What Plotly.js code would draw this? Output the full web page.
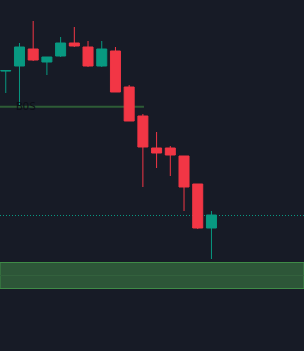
<!DOCTYPE html>
<html>
<head>
<meta charset="utf-8">
<script src="https://cdn.plot.ly/plotly-3.0.1.min.js"></script>
<style>
  html, body { margin: 0; padding: 0; background: #171b26; }
  #chart { width: 304px; height: 351px; }
</style>
</head>
<body>
<div id="chart"></div>
<script>
// Candle index (time order)
const bars = [0, 1, 2, 3, 4, 5, 6, 7, 8, 9, 10, 11, 12, 13, 14, 15];
// Prices (arbitrary price units)
const opens  = [280.0, 285, 302, 289, 295, 308, 304, 285, 300, 264, 235, 203, 203, 195, 167, 123];
const highs  = [280.5, 308, 330, 294, 314, 324, 310, 310, 304, 266, 237, 219, 205, 195, 167, 140];
const lows   = [258.0, 246, 290, 276, 294, 304, 284, 284, 259, 230, 164, 183, 175, 140, 122,  92];
const closes = [280.4, 304, 291, 294, 308, 305, 285, 302, 259, 230, 204, 198, 196, 164, 123, 136];

// Levels
const bosLevel = 244.2;      // break of structure line
const bosEndBar = 10.08;
const bosLabel = "BOS";
const dottedLevel = 135.5;   // dotted level line
const zoneTop = 88.5;        // demand zone
const zoneMid = 75.5;
const zoneBottom = 62.5;

const trace = {
  type: 'candlestick',
  x: bars,
  open: opens,
  high: highs,
  low: lows,
  close: closes,
  increasing: { line: { color: '#089981', width: 1 }, fillcolor: '#089981' },
  decreasing: { line: { color: '#f23645', width: 1 }, fillcolor: '#f23645' },
  whiskerwidth: 0,
  hoverinfo: 'skip',
  showlegend: false
};

const layout = {
  width: 304,
  height: 351,
  margin: { l: 0, r: 0, t: 0, b: 0 },
  paper_bgcolor: '#171b26',
  plot_bgcolor: '#171b26',
  boxgap: 0.27,
  boxgroupgap: 0,
  showlegend: false,
  xaxis: {
    range: [-0.42, 21.75],
    showgrid: false, zeroline: false, showticklabels: false, showline: false,
    ticks: '',
    rangeslider: { visible: false },
    fixedrange: true
  },
  yaxis: {
    range: [0, 351],
    showgrid: false, zeroline: false, showticklabels: false, showline: false,
    ticks: '',
    fixedrange: true
  },
  shapes: [
    { type: 'rect', xref: 'paper', yref: 'y', x0: 0, x1: 1, y0: zoneBottom, y1: zoneTop,
      fillcolor: '#2d5638', line: { color: '#3f8a47', width: 1 }, layer: 'below' },
    { type: 'line', xref: 'paper', yref: 'y', x0: 0, x1: 1, y0: zoneMid, y1: zoneMid,
      line: { color: '#33613d', width: 1 }, layer: 'below' },
    { type: 'line', xref: 'paper', yref: 'y', x0: 0, x1: 1, y0: dottedLevel, y1: dottedLevel,
      line: { color: '#089981', width: 1, dash: '1px,2px' }, layer: 'below' },
    { type: 'line', xref: 'x', yref: 'y', x0: -0.42, x1: bosEndBar, y0: bosLevel, y1: bosLevel,
      line: { color: '#2e5c36', width: 2 }, layer: 'below' }
  ],
  annotations: [
    { x: 1.47, y: bosLevel, xref: 'x', yref: 'y', text: bosLabel, showarrow: false,
      font: { family: 'DejaVu Sans Mono', size: 11, color: '#0c0f16' },
      xanchor: 'center', yanchor: 'middle' }
  ]
};

Plotly.newPlot('chart', [trace], layout, { displayModeBar: false, staticPlot: true });
</script>
</body>
</html>
